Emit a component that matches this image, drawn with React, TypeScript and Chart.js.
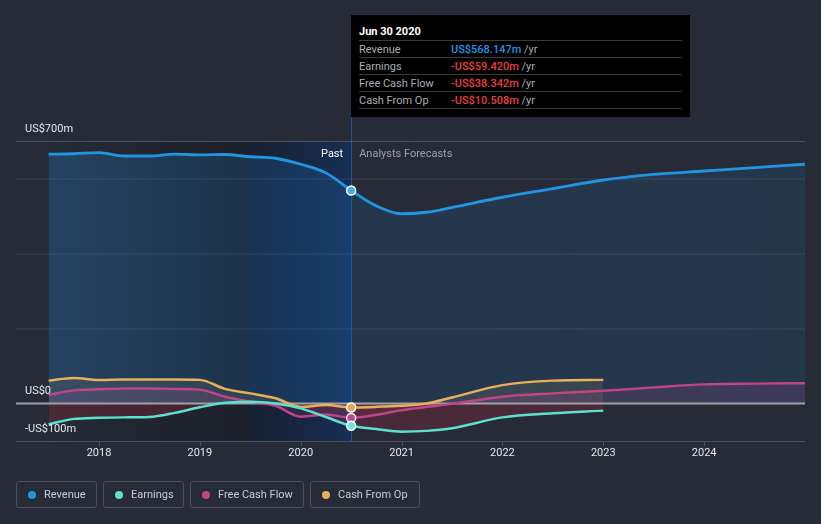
import React, { useEffect, useRef } from "react";
import { Chart, registerables } from "chart.js";

Chart.register(...registerables);

const FONT = 'Roboto, "Noto Sans", sans-serif';

// ---- data (US$ millions) ----
const pastYears = [2017.5, 2017.75, 2018.0, 2018.25, 2018.5, 2018.75, 2019.0, 2019.25, 2019.5, 2019.75, 2020.0, 2020.25, 2020.5];
const longForecastYears = [2020.75, 2021.0, 2021.25, 2021.5, 2022.0, 2022.5, 2023.0, 2023.5, 2024.0, 2024.5, 2025.0];
const shortForecastYears = [2020.75, 2021.0, 2021.25, 2021.5, 2022.0, 2022.5, 2023.0];

const revenuePast = [665, 666, 669, 660, 660, 665, 663, 664, 658, 654, 638, 615, 568.147];
const revenueForecast = [527, 506, 510, 523, 550, 573, 596, 611, 620, 629, 638];

const earningsPast = [-55, -41, -38, -37, -36, -25, -10, 2, 5, 0, -13, -36, -59.42];
const earningsForecast = [-68, -75, -73, -66, -37, -26, -19];

const fcfPast = [23, 35, 38, 40, 40, 39, 37, 18, 5, -6, -35, -29, -38.342];
const fcfForecast = [-30, -18, -9, -1, 18, 27, 34, 43, 51, 53, 54];

const cfoPast = [61, 68, 63, 64, 64, 64, 63, 39, 27, 14, -9, -4, -10.508];
const cfoForecast = [-9, -6, 0, 16, 49, 61, 63];

const xTickYears = [2018, 2019, 2020, 2021, 2022, 2023, 2024];
const yGridValues = [200, 400, 600];
const yLabelValues = [700, 0, -100];
const yLabels = ["US$700m", "US$0", "-US$100m"];

const X_MIN = 2017.177;
const X_MAX = 2025.0;
const Y_MIN = -100;
const Y_MAX = 700;
const PAST_BAND_START = 2019.5;
const NOW = 2020.5;

const seriesNames = ["Revenue", "Earnings", "Free Cash Flow", "Cash From Op"];
const seriesColors = ["#2194e2", "#5ce1cf", "#c04488", "#e9b05c"];
const tooltipTitle = "Jun 30 2020";
const tooltipValues = ["US$568.147m", "-US$59.420m", "-US$38.342m", "-US$10.508m"];
const tooltipValueColors = ["#2194e2", "#e8403f", "#e8403f", "#e8403f"];

const toPoints = (xs: number[], ys: number[]) => xs.map((x, i) => ({ x, y: ys[i] }));

const decor = {
  id: "decor",
  beforeDraw(chart: any) {
    const { ctx, chartArea: a, scales } = chart;
    const x = scales.x;
    const y = scales.y;
    ctx.save();
    const p0 = x.getPixelForValue(pastYears[0]);
    const p1 = x.getPixelForValue(PAST_BAND_START);
    const p2 = x.getPixelForValue(NOW);
    let g = ctx.createLinearGradient(p0, 0, p1, 0);
    g.addColorStop(0, "rgba(12,14,20,0)");
    g.addColorStop(1, "rgba(12,14,20,0.38)");
    ctx.fillStyle = g;
    ctx.fillRect(p0, a.top, p1 - p0, a.bottom - a.top);
    g = ctx.createLinearGradient(p1, 0, p2, 0);
    g.addColorStop(0, "rgba(10,20,45,0.45)");
    g.addColorStop(1, "rgba(10,50,110,0.55)");
    ctx.fillStyle = g;
    ctx.fillRect(p1, a.top, p2 - p1, a.bottom - a.top);

    // inner grid
    ctx.strokeStyle = "rgba(255,255,255,0.05)";
    ctx.lineWidth = 2;
    yGridValues.forEach((v) => {
      const py = Math.round(y.getPixelForValue(v));
      ctx.beginPath();
      ctx.moveTo(a.left, py);
      ctx.lineTo(a.right, py);
      ctx.stroke();
    });
    // top and bottom lines
    ctx.strokeStyle = "#4a505c";
    ctx.lineWidth = 1;
    [Y_MAX, Y_MIN].forEach((v) => {
      const py = Math.round(y.getPixelForValue(v)) + 0.5;
      ctx.beginPath();
      ctx.moveTo(a.left, py);
      ctx.lineTo(a.right, py);
      ctx.stroke();
    });
    // x ticks
    const by = Math.round(y.getPixelForValue(Y_MIN));
    xTickYears.forEach((yr) => {
      const px = Math.round(x.getPixelForValue(yr)) + 0.5;
      ctx.beginPath();
      ctx.moveTo(px, by);
      ctx.lineTo(px, by + 5);
      ctx.stroke();
    });
    ctx.restore();
  },
  beforeDatasetsDraw(chart: any) {
    const { ctx, chartArea: a, scales } = chart;
    const x = scales.x;
    const y = scales.y;
    ctx.save();
    const zy = y.getPixelForValue(0);
    ctx.strokeStyle = "#a0a0a6";
    ctx.lineWidth = 2;
    ctx.beginPath();
    ctx.moveTo(a.left, zy);
    ctx.lineTo(a.right, zy);
    ctx.stroke();
    const nx = Math.round(x.getPixelForValue(NOW)) + 0.5;
    ctx.strokeStyle = "rgba(40,95,170,0.75)";
    ctx.lineWidth = 1;
    ctx.beginPath();
    ctx.moveTo(nx, 15);
    ctx.lineTo(nx, a.bottom);
    ctx.stroke();
    ctx.restore();
  },
  afterDraw(chart: any) {
    const { ctx, chartArea: a, scales } = chart;
    const x = scales.x;
    const y = scales.y;
    ctx.save();
    ctx.font = `11px ${FONT}`;
    ctx.textBaseline = "middle";
    ctx.fillStyle = "#e6e8ec";
    ctx.textAlign = "left";
    yLabelValues.forEach((v, i) => {
      ctx.fillText(yLabels[i], a.left + 9, y.getPixelForValue(v) - 12);
    });
    ctx.textAlign = "center";
    xTickYears.forEach((yr) => {
      ctx.fillText(String(yr), x.getPixelForValue(yr), a.bottom + 12);
    });
    const nx = x.getPixelForValue(NOW);
    ctx.textAlign = "right";
    ctx.fillStyle = "#ffffff";
    ctx.fillText("Past", nx - 8, a.top + 13);
    ctx.textAlign = "left";
    ctx.fillStyle = "#9aa0a8";
    ctx.fillText("Analysts Forecasts", nx + 8, a.top + 13);
    ctx.restore();
  },
};

const revenueFill = (c: any) => {
  const chart = c.chart;
  const { chartArea, scales } = chart;
  if (!chartArea || !scales.x) return "rgba(33,150,243,0.13)";
  const x0 = scales.x.getPixelForValue(pastYears[0]);
  const x1 = scales.x.getPixelForValue(X_MAX);
  const g = chart.ctx.createLinearGradient(x0, 0, x1, 0);
  const f = (yr: number) => Math.min(1, Math.max(0, (yr - pastYears[0]) / (X_MAX - pastYears[0])));
  g.addColorStop(0, "rgba(33,150,243,0.22)");
  g.addColorStop(f(PAST_BAND_START), "rgba(33,150,243,0.17)");
  g.addColorStop(f(NOW), "rgba(33,150,243,0.15)");
  g.addColorStop(f(NOW + 0.02), "rgba(33,150,243,0.12)");
  g.addColorStop(1, "rgba(33,150,243,0.11)");
  return g;
};

const markerRadius = (c: any) => (c.raw && c.raw.x === NOW ? 4.5 : 0);

export default function App() {
  const ref = useRef<HTMLCanvasElement>(null);

  useEffect(() => {
    const canvas = ref.current;
    if (!canvas) return;
    const common = {
      borderWidth: 2.5,
      pointRadius: markerRadius,
      pointHoverRadius: markerRadius,
      pointBorderColor: "#ffffff",
      pointBorderWidth: 1.5,
      cubicInterpolationMode: "monotone" as const,
    };
    const chart = new Chart(canvas, {
      type: "line",
      data: {
        datasets: [
          {
            ...common,
            label: seriesNames[0],
            data: toPoints([...pastYears, ...longForecastYears], [...revenuePast, ...revenueForecast]),
            borderColor: seriesColors[0],
            pointBackgroundColor: "#4aa8f0",
            backgroundColor: revenueFill,
            fill: "origin",
            borderWidth: 2.8,
          },
          {
            ...common,
            label: seriesNames[1],
            data: toPoints([...pastYears, ...shortForecastYears], [...earningsPast, ...earningsForecast]),
            borderColor: seriesColors[1],
            pointBackgroundColor: "#6ae8d8",
            fill: { target: "origin", above: "rgba(92,225,207,0.08)", below: "rgba(220,40,60,0.2)" },
          },
          {
            ...common,
            label: seriesNames[2],
            data: toPoints([...pastYears, ...longForecastYears], [...fcfPast, ...fcfForecast]),
            borderColor: seriesColors[2],
            pointBackgroundColor: "#b84890",
            fill: { target: "origin", above: "rgba(192,68,136,0.18)", below: "rgba(192,68,136,0.12)" },
          },
          {
            ...common,
            label: seriesNames[3],
            data: toPoints([...pastYears, ...shortForecastYears], [...cfoPast, ...cfoForecast]),
            borderColor: seriesColors[3],
            pointBackgroundColor: "#e0a860",
            fill: { target: "origin", above: "rgba(233,176,92,0.12)", below: "rgba(233,176,92,0.08)" },
          },
        ],
      },
      options: {
        animation: false,
        responsive: false,
        maintainAspectRatio: false,
        devicePixelRatio: 1,
        events: [],
        layout: { padding: { left: 16, right: 16, top: 141, bottom: 83 } },
        scales: {
          x: { type: "linear", display: false, min: X_MIN, max: X_MAX },
          y: { type: "linear", display: false, min: Y_MIN, max: Y_MAX },
        },
        plugins: {
          legend: { display: false },
          tooltip: { enabled: false },
          filler: { drawTime: "beforeDatasetsDraw" },
        } as any,
      },
      plugins: [decor],
    });
    return () => chart.destroy();
  }, []);

  const rowTop = [40, 57, 74, 91];
  const legendWidths = [81, 81, 114, 110];

  return (
    <div
      style={{
        position: "fixed",
        left: 0,
        top: 0,
        width: 821,
        height: 524,
        background: "#262b37",
        fontFamily: FONT,
        overflow: "hidden",
      }}
    >
      <canvas ref={ref} width={821} height={524} style={{ position: "absolute", left: 0, top: 0, width: 821, height: 524 }} />
      <div
        style={{
          position: "absolute",
          left: 351,
          top: 15,
          width: 339,
          height: 102,
          background: "#000000",
          fontSize: 11,
        }}
      >
        <div style={{ position: "absolute", left: 8, top: 8.5, height: 16, lineHeight: "16px", color: "#fff", fontWeight: 700 }}>
          {tooltipTitle}
        </div>
        {[...rowTop, 108].map((t, i) => (
          <div key={"s" + i} style={{ position: "absolute", left: 8, top: t - 15, width: 323, height: 1, background: "#3a3a3a" }} />
        ))}
        {seriesNames.map((n, i) => (
          <React.Fragment key={n}>
            <div style={{ position: "absolute", left: 8, top: rowTop[i] - 15 + 0.5, height: 17, lineHeight: "17px", color: "#a9adb3" }}>{n}</div>
            <div style={{ position: "absolute", left: 100, top: rowTop[i] - 15 + 0.5, height: 17, lineHeight: "17px", whiteSpace: "nowrap" }}>
              <span style={{ color: tooltipValueColors[i], fontWeight: 500 }}>{tooltipValues[i]}</span>
              <span style={{ color: "#a9adb3" }}> /yr</span>
            </div>
          </React.Fragment>
        ))}
      </div>
      <div style={{ position: "absolute", left: 16, top: 481, display: "flex", gap: 6 }}>
        {seriesNames.map((n, i) => (
          <div
            key={n}
            style={{
              position: "relative",
              boxSizing: "border-box",
              width: legendWidths[i],
              height: 27,
              border: "1px solid #4a505c",
              borderRadius: 3,
            }}
          >
            <div
              style={{
                position: "absolute",
                left: 11,
                top: 8.5,
                width: 8,
                height: 8,
                borderRadius: 4,
                background: seriesColors[i],
              }}
            />
            <div
              style={{
                position: "absolute",
                left: 27,
                top: 0,
                height: 25,
                lineHeight: "25px",
                fontSize: 11,
                color: "#c8ccd2",
                whiteSpace: "nowrap",
              }}
            >
              {n}
            </div>
          </div>
        ))}
      </div>
    </div>
  );
}
